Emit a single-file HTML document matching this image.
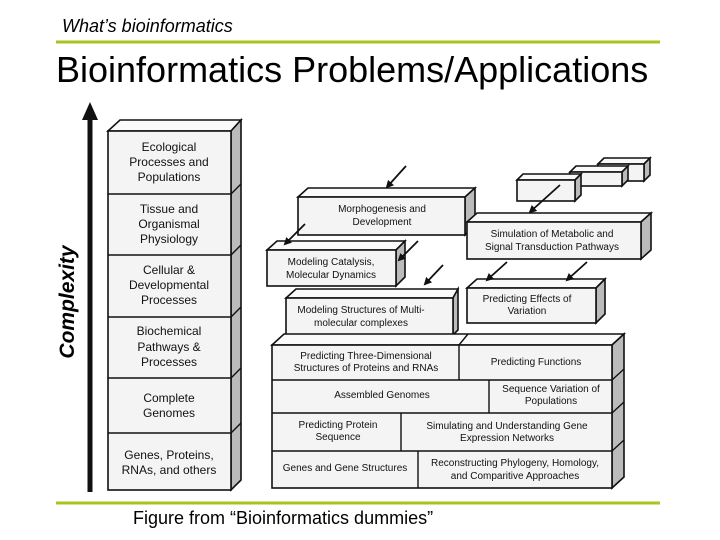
<!DOCTYPE html>
<html><head><meta charset="utf-8"><style>
html,body{margin:0;padding:0;background:#fff;}
svg{display:block;}
text{font-family:"Liberation Sans",Arial,sans-serif;}
.f{fill:#f4f4f4;stroke:#111;stroke-width:1.6;}
.s{fill:#bbb;stroke:#111;stroke-width:1.6;}
.t{fill:#fafafa;stroke:#111;stroke-width:1.6;}
.l{font-size:12px;fill:#111;text-anchor:middle;}
.m{font-size:10px;fill:#111;text-anchor:middle;}
</style></head><body>
<svg width="720" height="540" viewBox="0 0 720 540">
<defs><marker id="a" markerWidth="8" markerHeight="8" refX="6" refY="4" orient="auto" markerUnits="userSpaceOnUse"><path d="M0,0 L8,4 L0,8 z" fill="#111"/></marker></defs>
<text x="62" y="32" font-size="18" font-style="italic">What’s bioinformatics</text>
<line x1="56" y1="42" x2="660" y2="42" stroke="#a9c31f" stroke-width="3"/>
<text x="56" y="82" font-size="36">Bioinformatics Problems/Applications</text>
<line x1="56" y1="503" x2="660" y2="503" stroke="#a9c31f" stroke-width="3"/>
<text x="133" y="524" font-size="18">Figure from “Bioinformatics dummies”</text>

<line x1="90" y1="492" x2="90" y2="118" stroke="#111" stroke-width="5"/>
<path d="M82,120 L90,102 L98,120 z" fill="#111"/>
<text transform="translate(74,302) rotate(-90)" font-size="21" font-weight="bold" font-style="italic" text-anchor="middle">Complexity</text>

<path class="t" d="M108,131 L120,120 L241,120 L231,131 z"/>
<path class="s" d="M231,131 L241,120 L241,480 L231,490 z"/>
<rect class="f" x="108" y="131" width="123" height="359"/>
<g stroke="#111" stroke-width="1.4">
<line x1="108" y1="194" x2="231" y2="194"/><line x1="108" y1="255" x2="231" y2="255"/>
<line x1="108" y1="317" x2="231" y2="317"/><line x1="108" y1="378" x2="231" y2="378"/>
<line x1="108" y1="433" x2="231" y2="433"/>
<line x1="231" y1="194" x2="241" y2="184"/><line x1="231" y1="255" x2="241" y2="245"/>
<line x1="231" y1="317" x2="241" y2="307"/><line x1="231" y1="378" x2="241" y2="368"/>
<line x1="231" y1="433" x2="241" y2="423"/>
</g>
<text class="l"><tspan x="169" y="151">Ecological</tspan><tspan x="169" y="166">Processes and</tspan><tspan x="169" y="181">Populations</tspan></text>
<text class="l"><tspan x="169" y="213">Tissue and</tspan><tspan x="169" y="228">Organismal</tspan><tspan x="169" y="243">Physiology</tspan></text>
<text class="l"><tspan x="169" y="274">Cellular &amp;</tspan><tspan x="169" y="289">Developmental</tspan><tspan x="169" y="304">Processes</tspan></text>
<text class="l"><tspan x="169" y="335">Biochemical</tspan><tspan x="169" y="351">Pathways &amp;</tspan><tspan x="169" y="366">Processes</tspan></text>
<text class="l"><tspan x="169" y="402">Complete</tspan><tspan x="169" y="417">Genomes</tspan></text>
<text class="l"><tspan x="169" y="459">Genes, Proteins,</tspan><tspan x="169" y="474">RNAs, and others</tspan></text>

<path class="t" d="M598,164 L604,158 L650,158 L644,164 z"/><path class="s" d="M644,164 L650,158 L650,175 L644,181 z"/><rect class="f" x="598" y="164" width="46" height="17"/>
<path class="t" d="M570,172 L576,166 L628,166 L622,172 z"/><path class="s" d="M622,172 L628,166 L628,180 L622,186 z"/><rect class="f" x="570" y="172" width="52" height="14"/>
<path class="t" d="M517,180 L523,174 L581,174 L575,180 z"/><path class="s" d="M575,180 L581,174 L581,195 L575,201 z"/><rect class="f" x="517" y="180" width="58" height="21"/>

<path class="t" d="M298,197 L308,188 L475,188 L465,197 z"/><path class="s" d="M465,197 L475,188 L475,226 L465,235 z"/>
<rect class="f" x="298" y="197" width="167" height="38"/>
<text class="m"><tspan x="382" y="212">Morphogenesis and</tspan><tspan x="382" y="225">Development</tspan></text>

<path class="t" d="M467,222 L477,213 L651,213 L641,222 z"/><path class="s" d="M641,222 L651,213 L651,250 L641,259 z"/>
<rect class="f" x="467" y="222" width="174" height="37"/>
<text class="m"><tspan x="552" y="237">Simulation of Metabolic and</tspan><tspan x="552" y="250">Signal Transduction Pathways</tspan></text>

<path class="t" d="M267,250 L277,241 L405,241 L396,250 z"/><path class="s" d="M396,250 L405,241 L405,277 L396,286 z"/>
<rect class="f" x="267" y="250" width="129" height="36"/>
<text class="m"><tspan x="331" y="265">Modeling Catalysis,</tspan><tspan x="331" y="278">Molecular Dynamics</tspan></text>

<path class="t" d="M467,288 L477,279 L605,279 L596,288 z"/><path class="s" d="M596,288 L605,279 L605,314 L596,323 z"/>
<rect class="f" x="467" y="288" width="129" height="35"/>
<text class="m"><tspan x="527" y="302">Predicting Effects of</tspan><tspan x="527" y="314">Variation</tspan></text>

<path class="t" d="M286,298 L296,289 L458,289 L453,298 z"/><path class="s" d="M453,298 L458,289 L458,330 L453,335 z"/>
<rect class="f" x="286" y="298" width="167" height="37"/>
<text class="m"><tspan x="361" y="313">Modeling Structures of Multi-</tspan><tspan x="361" y="326">molecular complexes</tspan></text>

<path class="t" d="M272,345 L284,334 L624,334 L612,345 z"/>
<line x1="459" y1="345" x2="468" y2="334" stroke="#111" stroke-width="1.4"/>
<path class="s" d="M612,345 L624,334 L624,477 L612,488 z"/>
<rect class="f" x="272" y="345" width="340" height="143"/>
<g stroke="#111" stroke-width="1.4">
<line x1="272" y1="380" x2="612" y2="380"/><line x1="272" y1="413" x2="612" y2="413"/><line x1="272" y1="451" x2="612" y2="451"/>
<line x1="459" y1="345" x2="459" y2="380"/><line x1="489" y1="380" x2="489" y2="413"/>
<line x1="401" y1="413" x2="401" y2="451"/><line x1="418" y1="451" x2="418" y2="488"/>
<line x1="612" y1="380" x2="624" y2="369"/><line x1="612" y1="413" x2="624" y2="402"/><line x1="612" y1="451" x2="624" y2="440"/>
</g>
<text class="m"><tspan x="366" y="359">Predicting Three-Dimensional</tspan><tspan x="366" y="371">Structures of Proteins and RNAs</tspan></text>
<text class="m" x="536" y="365">Predicting Functions</text>
<text class="m" x="382" y="398">Assembled Genomes</text>
<text class="m"><tspan x="551" y="392">Sequence Variation of</tspan><tspan x="551" y="404">Populations</tspan></text>
<text class="m"><tspan x="338" y="428">Predicting Protein</tspan><tspan x="338" y="440">Sequence</tspan></text>
<text class="m"><tspan x="507" y="429">Simulating and Understanding Gene</tspan><tspan x="507" y="441">Expression Networks</tspan></text>
<text class="m" x="345" y="471">Genes and Gene Structures</text>
<text class="m"><tspan x="515" y="466">Reconstructing Phylogeny, Homology,</tspan><tspan x="515" y="479">and Comparitive Approaches</tspan></text>

<g stroke="#111" stroke-width="1.8" marker-end="url(#a)">
<line x1="406" y1="166" x2="387" y2="187"/>
<line x1="305" y1="224" x2="285" y2="244"/>
<line x1="418" y1="241" x2="399" y2="260"/>
<line x1="443" y1="265" x2="425" y2="284"/>
<line x1="560" y1="185" x2="530" y2="212"/>
<line x1="507" y1="262" x2="487" y2="280"/>
<line x1="587" y1="262" x2="567" y2="280"/>
</g>
</svg>
</body></html>
